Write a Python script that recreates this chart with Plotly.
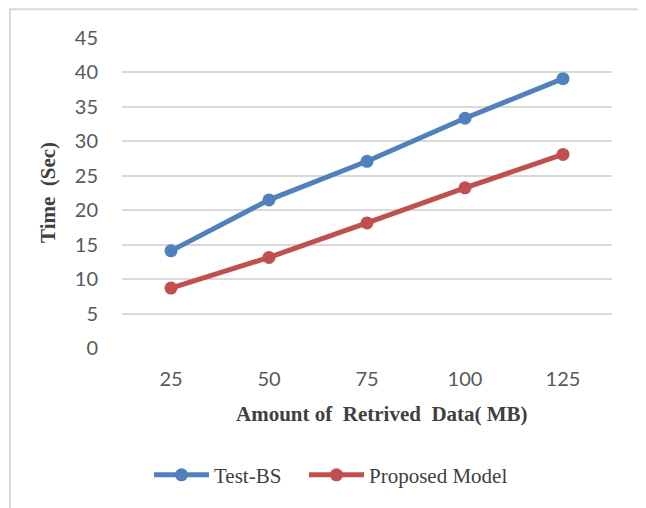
import plotly.graph_objects as go

categories = ["25", "50", "75", "100", "125"]
test_bs = [14.1, 21.5, 27.1, 33.35, 39.1]
proposed = [8.7, 13.15, 18.15, 23.25, 28.1]
y_ticks = [0, 5, 10, 15, 20, 25, 30, 35, 40, 45]

# page body has an 8px margin; coordinates below are target page pixels
OFF = 8
W, H = 646 - OFF, 508 - OFF
L, R, T, B = 122 - OFF, 612 - OFF, 38 - OFF, 350 - OFF
pw, ph = R - L, B - T

def px(x):
    return (x - OFF - L) / pw

def py(y):
    return (B - (y - OFF)) / ph

fig = go.Figure()
fig.add_trace(go.Scatter(
    x=categories, y=test_bs, name="Test-BS", mode="lines+markers",
    line=dict(color="#4F81BD", width=5),
    marker=dict(color="#4F81BD", size=13),
    legendwidth=85,
))
fig.add_trace(go.Scatter(
    x=categories, y=proposed, name="Proposed Model", mode="lines+markers",
    line=dict(color="#C0504D", width=5),
    marker=dict(color="#C0504D", size=13),
    legendwidth=150,
))

fig.update_layout(
    width=W, height=H,
    margin=dict(l=L, r=W - R, t=T, b=H - B),
    paper_bgcolor="white", plot_bgcolor="white",
    showlegend=True,
    legend=dict(
        orientation="h", x=px(149), y=py(478), xanchor="left", yanchor="middle",
        font=dict(family="Liberation Serif", size=21, color="#404040"),
        itemwidth=55, itemsizing="trace", bgcolor="rgba(0,0,0,0)",
        entrywidthmode="pixels",
    ),
    xaxis=dict(
        type="category", range=[-0.5, 4.5], showgrid=False, showline=False,
        zeroline=False, ticks="", ticklabelstandoff=17,
        tickfont=dict(family="Lato", size=20, color="#595959"),
    ),
    yaxis=dict(
        range=[0, 45], tickvals=y_ticks, showgrid=True, gridcolor="#D9D9D9",
        gridwidth=1.5, zeroline=False, showline=False, ticks="",
        ticklabelstandoff=23,
        tickfont=dict(family="Lato", size=20, color="#595959"),
    ),
    annotations=[
        dict(text="<b>Amount of  Retrived  Data( MB)</b>", x=px(382), y=py(416),
             xref="paper", yref="paper", showarrow=False, xanchor="center", yanchor="middle",
             font=dict(family="Liberation Serif", size=21, color="#404040")),
        dict(text="<b>Time  (Sec)</b>", x=px(48), y=py(194), textangle=-90,
             xref="paper", yref="paper", showarrow=False, xanchor="center", yanchor="middle",
             font=dict(family="Liberation Serif", size=21, color="#404040")),
    ],
    shapes=[
        dict(type="rect", xref="paper", yref="paper",
             x0=px(10), x1=px(643), y0=py(530), y1=py(9),
             line=dict(color="#D9D9D9", width=2), fillcolor="rgba(0,0,0,0)", layer="below"),
    ],
)

fig.write_html("out.html")
